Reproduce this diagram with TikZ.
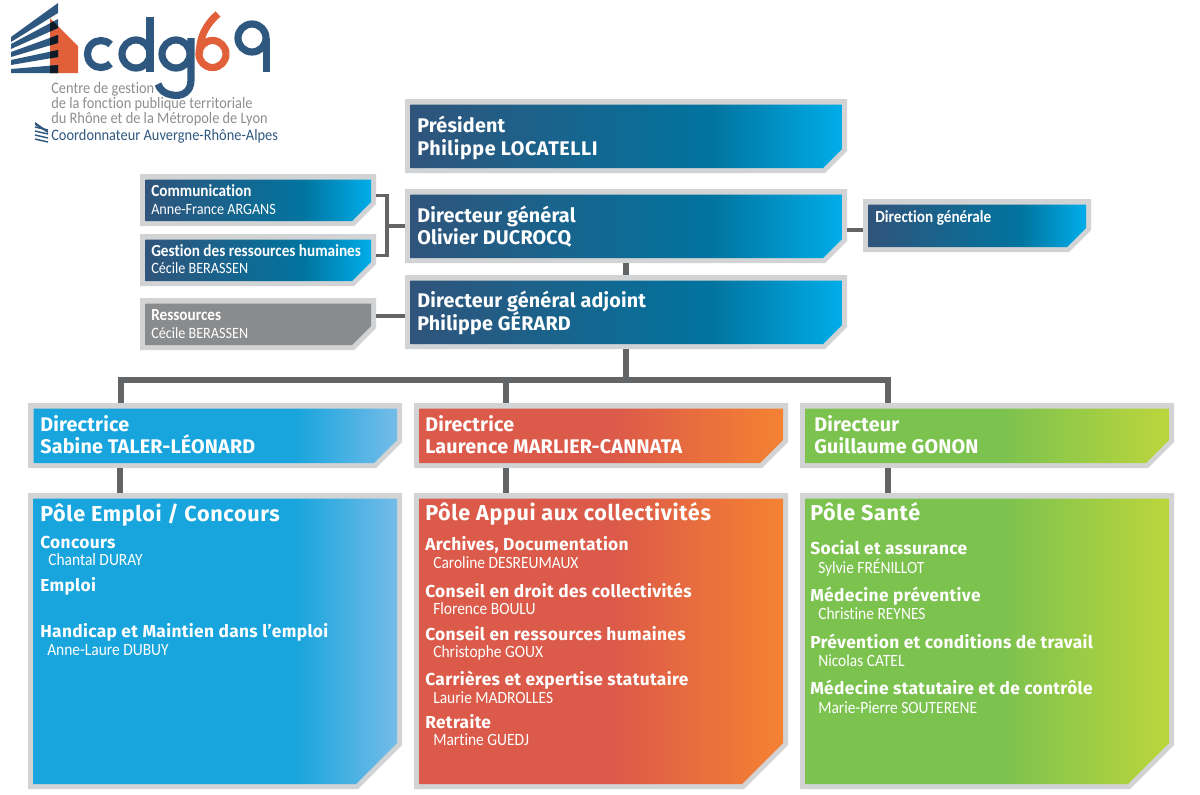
\documentclass[tikz,border=0pt]{standalone}
\usepackage{fontspec}
\usetikzlibrary{fit,calc}
\setmainfont{Carlito}[Ligatures=NoCommon,FakeStretch=0.9]
\newfontfamily\hd{Fira Sans}[LetterSpace=3]
\newfontfamily\hdb{Fira Sans}[LetterSpace=2]
\newfontfamily\hdt{Fira Sans}[LetterSpace=1]
\definecolor{edge}{HTML}{D1D3D4}
\definecolor{wire}{HTML}{636466}
\definecolor{logoblue}{HTML}{2F5880}
\definecolor{logoorange}{HTML}{E1603A}
\definecolor{logogray}{HTML}{8C8E90}
\definecolor{navyA}{HTML}{30547B}\definecolor{navyB}{HTML}{00749F}\definecolor{navyC}{HTML}{00ADE9}
\definecolor{skyA}{HTML}{18A5DD}\definecolor{skyB}{HTML}{74BCE8}
\definecolor{redA}{HTML}{DC5A49}\definecolor{redB}{HTML}{F58232}
\definecolor{grnA}{HTML}{7CC24F}\definecolor{grnB}{HTML}{BBD63C}
\definecolor{greyA}{HTML}{8A8B8D}
\pgfdeclarehorizontalshading{navyshade}{100bp}{color(0bp)=(navyA); color(25bp)=(navyA); color(60bp)=(navyB); color(75bp)=(navyC); color(100bp)=(navyC)}
\pgfdeclarehorizontalshading{skyshade}{100bp}{color(0bp)=(skyA); color(25bp)=(skyA); color(61bp)=(skyA); color(75bp)=(skyB); color(100bp)=(skyB)}
\pgfdeclarehorizontalshading{redshade}{100bp}{color(0bp)=(redA); color(25bp)=(redA); color(52bp)=(redA); color(75bp)=(redB); color(100bp)=(redB)}
\pgfdeclarehorizontalshading{grnshade}{100bp}{color(0bp)=(grnA); color(25bp)=(grnA); color(52bp)=(grnA); color(75bp)=(grnB); color(100bp)=(grnB)}
\pgfdeclarehorizontalshading{greyshade}{100bp}{color(0bp)=(greyA); color(100bp)=(greyA)}
\newcounter{tc}
% name, x0,y0,x1,y1, outer chamfer, shading
\newcommand{\cbox}[7]{%
  \fill[edge] (#2,#3) -- (#4,#3) -- (#4,#5-#6) -- (#4-#6,#5) -- (#2,#5) -- cycle;
  \shade[shading=#7] (#2+5.5,#3+5.5) -- (#4-5,#3+5.5) -- (#4-5,#5-#6-2) -- (#4-#6-2,#5-5) -- (#2+5.5,#5-5) -- cycle;
  \coordinate (#1a) at (#2,#3); \coordinate (#1b) at (#4,#5);
  \node[fit=(#1a)(#1b),inner sep=0pt] (#1) {};
}
\newcommand{\tx}[4]{\stepcounter{tc}\node[#1,anchor=base west,inner sep=0pt] (t\thetc) at (#2,#3) {#4};}
\tikzset{
  big/.style={text=white,font=\hd\bfseries\fontsize{16.2}{18}\selectfont},
  top/.style={text=white,font=\hdt\bfseries\fontsize{14.8}{18}\selectfont},
  topw/.style={text=white,font=\hd\bfseries\fontsize{14.8}{18}\selectfont},
  sub/.style={text=white,font=\hdb\bfseries\fontsize{13}{16}\selectfont},
  who/.style={text=white,font=\fontsize{12.9}{14}\selectfont},
  whos/.style={text=white,font=\fontsize{11.8}{14}\selectfont},
  smallb/.style={text=white,font=\bfseries\fontsize{12.7}{14}\selectfont},
  lg/.style={text=logogray,font=\fontsize{12}{13}\selectfont},
  lb/.style={text=logoblue,font=\fontsize{12}{13}\selectfont},
  logostroke/.style={draw=logoblue,line width=5.4pt,line cap=butt},
}
\begin{document}
\begin{tikzpicture}[x=0.75pt,y=-0.75pt]
\useasboundingbox (0,0) rectangle (1200,794);
% logo
\fill[logoorange] (50,18) -- (78,46) -- (78,73) -- (50,73) -- cycle;
\foreach \a/\b/\c/\d in {37/42/3/13, 44/49/19/28, 52/57/35/43, 60/65/50/57, 69/73/65/73}{
  \fill[logoblue] (11,\a) -- (58,\c) -- (58,\d) -- (11,\b) -- cycle;
  \begin{scope}
    \clip (50,18) -- (78,46) -- (78,73) -- (50,73) -- cycle;
    \fill[black!70!logoblue] (11,\a) -- (58,\c) -- (58,\d) -- (11,\b) -- cycle;
  \end{scope}
}
\draw[logostroke] (110.5,44.5) arc[start angle=-45,end angle=-315,radius=13.5];
\draw[logostroke] (150,17) -- (150,72);
\draw[logostroke] (150,54) arc[start angle=0,end angle=360,radius=14];
\draw[logostroke] (191,38) -- (191,80) .. controls (191,92) and (182,97) .. (172,95) .. controls (165,94) and (160,90) .. (158,84);
\draw[logostroke] (190,54) arc[start angle=0,end angle=360,radius=14];
\draw[logostroke,draw=logoorange] (226,54) arc[start angle=0,end angle=360,radius=13.5];
\draw[logostroke,draw=logoorange] (199.5,54) .. controls (199,38) and (206,24) .. (218,14);
\draw[logostroke] (266,38) arc[start angle=0,end angle=360,radius=14];
\draw[logostroke] (266.5,38) -- (266.5,72);
\foreach \yy/\xx in {124/36,128/36,132/36,136/36}{
  \draw[logoblue,line width=1.1pt] (35,\yy+3) -- (48,\yy+6);
}
\fill[logoblue] (35,122) -- (48,131) -- (48,133) -- (35,125) -- cycle;
\tx{lg}{51}{93}{Centre de gestion}
\tx{lg}{51}{108.5}{de la fonction publique territoriale}
\tx{lg}{51}{123.5}{du Rhône et de la Métropole de Lyon}
\tx{lb}{51}{140}{Coordonnateur Auvergne-Rhône-Alpes}
% boxes
\cbox{pres}{405}{99}{847}{173}{22}{navyshade}
\cbox{dg}{405}{189}{847}{263}{22}{navyshade}
\cbox{dga}{405}{275}{847}{349}{22}{navyshade}
\cbox{dirg}{863}{199}{1091}{252}{22}{navyshade}
\cbox{com}{140}{174}{376}{226}{22}{navyshade}
\cbox{grh}{140}{234}{376}{286}{22}{navyshade}
\cbox{res}{140}{298}{376}{350}{22}{greyshade}
\cbox{dA}{28}{403}{402}{468}{26}{skyshade}
\cbox{dB}{414}{403}{788}{468}{26}{redshade}
\cbox{dC}{800}{403}{1174}{468}{26}{grnshade}
\cbox{pA}{28}{493}{402}{789}{44}{skyshade}
\cbox{pB}{414}{493}{788}{789}{44}{redshade}
\cbox{pC}{800}{493}{1174}{789}{44}{grnshade}
% connectors
\coordinate (busmid) at (dga.south |- 0,380);
\coordinate (dAt) at ($(dA.north west)+(93,0)$);
\coordinate (dBt) at ($(dB.north west)+(92,0)$);
\coordinate (dCt) at ($(dC.north west)+(88,0)$);
\coordinate (pAt) at ($(pA.north west)+(92,0)$);
\coordinate (pBt) at ($(pB.north west)+(92,0)$);
\coordinate (pCt) at ($(pC.north west)+(88,0)$);
\coordinate (dAb) at ($(dA.south west)+(92,0)$);
\coordinate (dBb) at ($(dB.south west)+(92,0)$);
\coordinate (dCb) at ($(dC.south west)+(88,0)$);
\coordinate (comr) at ($(com.north east)+(0,22)$);
\coordinate (grhr) at ($(grh.north east)+(0,22)$);
\coordinate (dgl) at (dg.west |- 0,226);
\coordinate (brk) at (387,226);
\coordinate (resr) at (res.east |- 0,316);
\coordinate (dgal) at (dga.west |- 0,316);
\coordinate (dgr) at (dg.east |- 0,230);
\coordinate (dirl) at (dirg.west |- 0,230);
\draw[draw=wire,line width=2.6pt] (comr) -| (brk) |- (grhr);
\draw[draw=wire,line width=2.6pt] (brk) -- (dgl);
\draw[draw=wire,line width=2.6pt] (resr) -- (dgal);
\draw[draw=wire,line width=2.6pt] (dgr) -- (dirl);
\draw[draw=wire,line width=4.5pt] (dg.south) -- (dga.north);
\draw[draw=wire,line width=4.5pt] (dga.south) -- (busmid);
\draw[draw=wire,line width=4.5pt] (dAt) |- (busmid) -| (dCt);
\draw[draw=wire,line width=4.5pt] (dBt) -- (dBt |- busmid);
\draw[draw=wire,line width=4.5pt] (dAb) -- (pAt);
\draw[draw=wire,line width=4.5pt] (dBb) -- (pBt);
\draw[draw=wire,line width=4.5pt] (dCb) -- (pCt);
% texts
\tx{top}{417}{132}{Président}
\tx{topw}{417}{155}{Philippe LOCATELLI}
\tx{top}{417}{222}{Directeur général}
\tx{top}{417}{244}{Olivier DUCROCQ}
\tx{top}{417}{307}{Directeur général adjoint}
\tx{top}{417}{330}{Philippe GÉRARD}
\tx{smallb}{151}{196}{Communication}
\tx{whos}{151}{214}{Anne-France ARGANS}
\tx{smallb}{151}{256}{Gestion des ressources humaines}
\tx{whos}{151}{273}{Cécile BERASSEN}
\tx{smallb}{151}{320}{Ressources}
\tx{whos}{151}{338}{Cécile BERASSEN}
\tx{smallb}{875}{222}{Direction générale}
\tx{top}{40}{431}{Directrice}
\tx{top}{40}{453}{Sabine TALER-LÉONARD}
\tx{top}{425}{431}{Directrice}
\tx{top}{425}{453}{Laurence MARLIER-CANNATA}
\tx{top}{814}{431}{Directeur}
\tx{top}{814}{453}{Guillaume GONON}
\tx{big}{40}{521}{Pôle Emploi / Concours}
\tx{sub}{40}{548}{Concours}
\tx{who}{48}{565}{Chantal DURAY}
\tx{sub}{40}{591}{Emploi}
\tx{sub}{40}{637}{Handicap et Maintien dans l’emploi}
\tx{who}{47}{655}{Anne-Laure DUBUY}
\tx{big}{425}{520}{Pôle Appui aux collectivités}
\tx{sub}{425}{550}{Archives, Documentation}
\tx{who}{433}{568}{Caroline DESREUMAUX}
\tx{sub}{425}{597}{Conseil en droit des collectivités}
\tx{who}{433}{614}{Florence BOULU}
\tx{sub}{425}{640}{Conseil en ressources humaines}
\tx{who}{433}{657}{Christophe GOUX}
\tx{sub}{425}{685}{Carrières et expertise statutaire}
\tx{who}{433}{703}{Laurie MADROLLES}
\tx{sub}{425}{728}{Retraite}
\tx{who}{433}{745}{Martine GUEDJ}
\tx{big}{810}{520}{Pôle Santé}
\tx{sub}{810}{554}{Social et assurance}
\tx{who}{818}{573}{Sylvie FRÉNILLOT}
\tx{sub}{810}{601}{Médecine préventive}
\tx{who}{818}{619}{Christine REYNES}
\tx{sub}{810}{648}{Prévention et conditions de travail}
\tx{who}{818}{666}{Nicolas CATEL}
\tx{sub}{810}{694}{Médecine statutaire et de contrôle}
\tx{who}{818}{713}{Marie-Pierre SOUTERENE}
\end{tikzpicture}
\end{document}
